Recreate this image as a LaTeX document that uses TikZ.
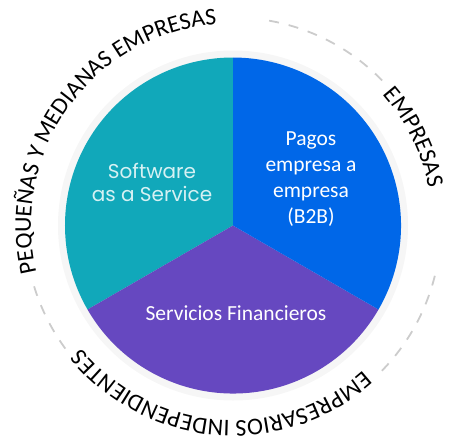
\documentclass[tikz,border=0pt]{standalone}
\usepackage{fontspec}
\setmainfont{Carlito}
\newfontfamily\saasfont{Poppins}
\usepackage{xcolor}
\usetikzlibrary{decorations.text}

\definecolor{saasteal}{RGB}{17,168,186}
\definecolor{saaslight}{RGB}{214,241,243}
\definecolor{bblue}{RGB}{0,103,232}
\definecolor{finpurple}{RGB}{102,72,192}

\def\ringfont{\fontsize{24}{25}\selectfont}

\tikzset{
  ringdash/.style={draw=gray!40, line width=1.8pt, dash pattern=on 10pt off 10pt},
  ringtext/.style={decorate, decoration={text along path, text align=center, text={|\ringfont|#1}}},
  pielabel/.style={text=white, align=center, font=\fontsize{21.5}{26}\selectfont},
  saaslabel/.style={text=saaslight, align=center, font=\saasfont\fontsize{20}{22.5}\selectfont},
}

\begin{document}
\begin{tikzpicture}[x=1pt, y=1pt]
  \useasboundingbox (-233,-214.5) rectangle (216,225.5);
  \coordinate (O) at (0,0);
  \def\radius{168pt}
  \def\ringradius{208pt}

  \fill[gray!7] (O) circle[radius=175pt];

  \fill[saasteal] (O) -- (90:\radius) arc[start angle=90, end angle=210, radius=\radius] -- cycle;
  \fill[finpurple] (O) -- (210:\radius) arc[start angle=210, end angle=330, radius=\radius] -- cycle;
  \fill[bblue] (O) -- (330:\radius) arc[start angle=-30, end angle=90, radius=\radius] -- cycle;

  \node[saaslabel] (saas) at (-81,43) {Software\\as a Service};
  \node[pielabel] (b2b) at (78,46.5) {Pagos\\empresa a\\empresa\\(B2B)};
  \node[pielabel, anchor=base] (fin) at (3,-94.5) {Servicios Financieros};

  \draw[ringdash] (80:\ringradius) arc[start angle=80, end angle=44, radius=\ringradius];
  \draw[ringdash] (-14:\ringradius) arc[start angle=-14, end angle=-47, radius=\ringradius];
  \draw[ringdash] (197:\ringradius) arc[start angle=197, end angle=217, radius=\ringradius];

  \path[ringtext={PEQUEÑAS Y MEDIANAS EMPRESAS}] (198:202pt) arc[start angle=198, end angle=90, radius=202pt];
  \path[ringtext={EMPRESAS}] (46:199pt) arc[start angle=46, end angle=6, radius=199pt];
  \path[ringtext={EMPRESARIOS INDEPENDIENTES}] (-43:195pt) arc[start angle=-43, end angle=-146, radius=195pt];
\end{tikzpicture}
\end{document}
